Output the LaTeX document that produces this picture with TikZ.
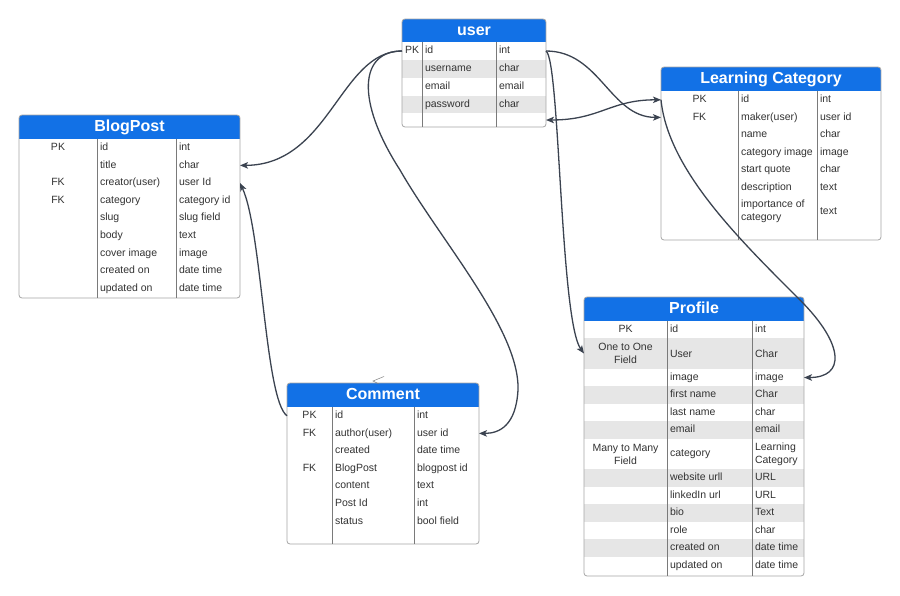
\documentclass[tikz,border=0pt]{standalone}
\usepackage{fontspec}
\setmainfont{Liberation Sans}
\usetikzlibrary{arrows.meta}
\definecolor{hdrblue}{HTML}{1271E6}
\definecolor{txt}{HTML}{333333}
\definecolor{rowgray}{HTML}{E6E6E6}
\definecolor{bordergray}{HTML}{A6A6A6}
\definecolor{divgray}{HTML}{7A7A7A}
\definecolor{connc}{HTML}{3B4350}

\tikzset{
  rowbox/.style={inner sep=0pt, outer sep=0pt, draw=none},
  cellbase/.style={inner sep=0pt, outer sep=0pt, text=txt, font=\fontsize{10.5}{13}\selectfont},
  cellc/.style={cellbase, align=center, anchor=center},
  celll/.style={cellbase, align=left, anchor=west},
  sl/.style={text height=7.6pt, text depth=2.2pt},
  hdrtext/.style={inner sep=0pt, outer sep=0pt, anchor=base, text=white, font=\fontsize{16}{18}\selectfont\bfseries},
  hdrfill/.style={fill=hdrblue},
  tabborder/.style={draw=bordergray, line width=0.8pt},
  coldiv/.style={draw=divgray, line width=0.7pt},
  conn/.style={draw=connc, line width=1.3pt, -{Stealth[length=8pt,width=6.5pt,inset=2pt]}},
  conntwo/.style={draw=connc, line width=1.3pt, {Stealth[length=8pt,width=6.5pt,inset=2pt]}-{Stealth[length=8pt,width=6.5pt,inset=2pt]}},
  markline/.style={draw=gray, line width=0.5pt},
}

\newcommand{\tabdims}[4]{\def\TL{#1}\def\TA{#2}\def\TB{#3}\def\TR{#4}}
\newcommand{\erow}[8]{%
  \pgfmathsetmacro\TW{\TR-\TL}%
  \pgfmathsetmacro\YM{#2+#3/2}%
  \pgfmathsetmacro\XK{(\TL+\TA)/2}%
  \pgfmathsetmacro\XF{\TA+3}%
  \pgfmathsetmacro\XT{\TB+3}%
  \node[rowbox, fill=#4, minimum width=\TW pt, minimum height=#3pt, anchor=north west] (#1) at (\TL,#2) {};
  \node[cellc,#8] (#1-k) at (\XK,\YM) {#5};
  \node[celll,#8] (#1-f) at (\XF,\YM) {#6};
  \node[celll,#8] (#1-t) at (\XT,\YM) {#7};
}

\begin{document}
\begin{tikzpicture}[x=1pt, y=-1pt]
\fill[white] (0,0) rectangle (900,595);
\useasboundingbox (0,0) rectangle (900,595);

% ---------------- user ----------------
\tabdims{402}{422}{496}{546}
\begin{scope}
\clip[rounded corners=3pt] (\TL,19) rectangle (\TR,127);
\fill[hdrfill] (\TL,19) rectangle (\TR,42);
\erow{user-id}{42}{18}{white}{PK}{id}{int}{sl}
\erow{user-un}{60}{18}{rowgray}{}{username}{char}{sl}
\erow{user-em}{78}{18}{white}{}{email}{email}{sl}
\erow{user-pw}{96}{17}{rowgray}{}{password}{char}{sl}
\erow{user-bl}{113}{14}{white}{}{}{}{sl}
\end{scope}
\node[hdrtext] (user) at ({(\TL+\TR)/2},35.5) {user};
\draw[tabborder, rounded corners=3pt] (\TL,19) rectangle (\TR,127);
\draw[coldiv] (\TA,42) -- (\TA,127) (\TB,42) -- (\TB,127);

% ---------------- BlogPost ----------------
\tabdims{19}{97}{176}{240}
\begin{scope}
\clip[rounded corners=3pt] (\TL,115) rectangle (\TR,298);
\fill[hdrfill] (\TL,115) rectangle (\TR,139);
\erow{bp-id}{139}{17.6}{white}{PK}{id}{int}{sl}
\erow{bp-title}{156.6}{17.6}{white}{}{title}{char}{sl}
\erow{bp-creator}{174.2}{17.6}{white}{FK}{creator(user)}{user Id}{sl}
\erow{bp-category}{191.8}{17.6}{white}{FK}{category}{category id}{sl}
\erow{bp-slug}{209.4}{17.6}{white}{}{slug}{slug field}{sl}
\erow{bp-body}{227}{17.6}{white}{}{body}{text}{sl}
\erow{bp-cover}{244.6}{17.6}{white}{}{cover image}{image}{sl}
\erow{bp-created}{262.2}{17.6}{white}{}{created on}{date time}{sl}
\erow{bp-updated}{279.8}{17.6}{white}{}{updated on}{date time}{sl}
\end{scope}
\node[hdrtext] (blogpost) at ({(\TL+\TR)/2},131.5) {BlogPost};
\draw[tabborder, rounded corners=3pt] (\TL,115) rectangle (\TR,298);
\draw[coldiv] (\TA,139) -- (\TA,298) (\TB,139) -- (\TB,298);

% ---------------- Learning Category ----------------
\tabdims{661}{738}{817}{881}
\begin{scope}
\clip[rounded corners=3pt] (\TL,67) rectangle (\TR,240);
\fill[hdrfill] (\TL,67) rectangle (\TR,91);
\erow{lc-id}{91}{17.6}{white}{PK}{id}{int}{sl}
\erow{lc-maker}{108.6}{17.6}{white}{FK}{maker(user)}{user id}{sl}
\erow{lc-name}{126.2}{17.6}{white}{}{name}{char}{sl}
\erow{lc-image}{143.8}{17.6}{white}{}{category image}{image}{sl}
\erow{lc-quote}{161.4}{17.6}{white}{}{start quote}{char}{sl}
\erow{lc-desc}{179}{17.6}{white}{}{description}{text}{sl}
\erow{lc-imp}{196.6}{30}{white}{}{importance of\\category}{text}{}
\end{scope}
\node[hdrtext] (learncat) at ({(\TL+\TR)/2},83.5) {Learning Category};
\draw[tabborder, rounded corners=3pt] (\TL,67) rectangle (\TR,240);
\draw[coldiv] (\TA,91) -- (\TA,240) (\TB,91) -- (\TB,240);

% ---------------- Profile ----------------
\tabdims{584}{667}{752}{804}
\begin{scope}
\clip[rounded corners=3pt] (\TL,297) rectangle (\TR,576);
\fill[hdrfill] (\TL,297) rectangle (\TR,321);
\erow{pf-id}{321}{17}{white}{PK}{id}{int}{sl}
\erow{pf-user}{338}{31}{rowgray}{One to One\\Field}{User}{Char}{}
\erow{pf-image}{369}{17}{white}{}{image}{image}{sl}
\erow{pf-first}{386}{18}{rowgray}{}{first name}{Char}{sl}
\erow{pf-last}{404}{17}{white}{}{last name}{char}{sl}
\erow{pf-email}{421}{18}{rowgray}{}{email}{email}{sl}
\erow{pf-cat}{439}{30}{white}{Many to Many\\Field}{category}{Learning\\Category}{}
\erow{pf-web}{469}{18}{rowgray}{}{website urll}{URL}{sl}
\erow{pf-linked}{487}{17}{white}{}{linkedIn url}{URL}{sl}
\erow{pf-bio}{504}{18}{rowgray}{}{bio}{Text}{sl}
\erow{pf-role}{522}{17}{white}{}{role}{char}{sl}
\erow{pf-created}{539}{18}{rowgray}{}{created on}{date time}{sl}
\erow{pf-updated}{557}{18}{white}{}{updated on}{date time}{sl}
\end{scope}
\node[hdrtext] (profile) at ({(\TL+\TR)/2},313.5) {Profile};
\draw[tabborder, rounded corners=3pt] (\TL,297) rectangle (\TR,576);
\draw[coldiv] (\TA,321) -- (\TA,576) (\TB,321) -- (\TB,576);

% ---------------- Comment ----------------
\tabdims{287}{332}{414}{479}
\begin{scope}
\clip[rounded corners=3pt] (\TL,383) rectangle (\TR,544);
\fill[hdrfill] (\TL,383) rectangle (\TR,407);
\erow{cm-id}{407}{17.6}{white}{PK}{id}{int}{sl}
\erow{cm-author}{424.6}{17.6}{white}{FK}{author(user)}{user id}{sl}
\erow{cm-created}{442.2}{17.6}{white}{}{created}{date time}{sl}
\erow{cm-blog}{459.8}{17.6}{white}{FK}{BlogPost}{blogpost id}{sl}
\erow{cm-content}{477.4}{17.6}{white}{}{content}{text}{sl}
\erow{cm-postid}{495}{17.6}{white}{}{Post Id}{int}{sl}
\erow{cm-status}{512.6}{17.6}{white}{}{status}{bool field}{sl}
\end{scope}
\node[hdrtext] (comment) at ({(\TL+\TR)/2},399.5) {Comment};
\draw[tabborder, rounded corners=3pt] (\TL,383) rectangle (\TR,544);
\draw[coldiv] (\TA,407) -- (\TA,544) (\TB,407) -- (\TB,544);

% small stray mark above Comment
\draw[markline] (384,376.5) -- (373,381) -- (379,384);

% ---------------- connectors ----------------
\draw[conn] (user-id.west) .. controls (340,51) and (330,165) .. (bp-title.east);
\draw[conn] (user-id.west) .. controls (360,51) and (355,100) .. (400,170)
   .. controls (440,240) and (520,330) .. (518,390)
   .. controls (516,425) and (500,433.4) .. (cm-author.east);
\draw[conn] (cm-id.west) .. controls (265,400) and (262,230) .. (bp-creator.east);
\draw[conn] (user-id.east) .. controls (600,51) and (610,117.4) .. (lc-maker.west);
\draw[conntwo] (user-bl.east) .. controls (600,120) and (610,99.8) .. (lc-id.west);
\draw[conn] (user-id.east) .. controls (560,60) and (560,320) .. (pf-user.west);
\draw[conn] (lc-id.west) .. controls (668,170) and (740,240) .. (800,300)
   .. controls (845,345) and (845,377.5) .. (pf-image.east);
\end{tikzpicture}
\end{document}
